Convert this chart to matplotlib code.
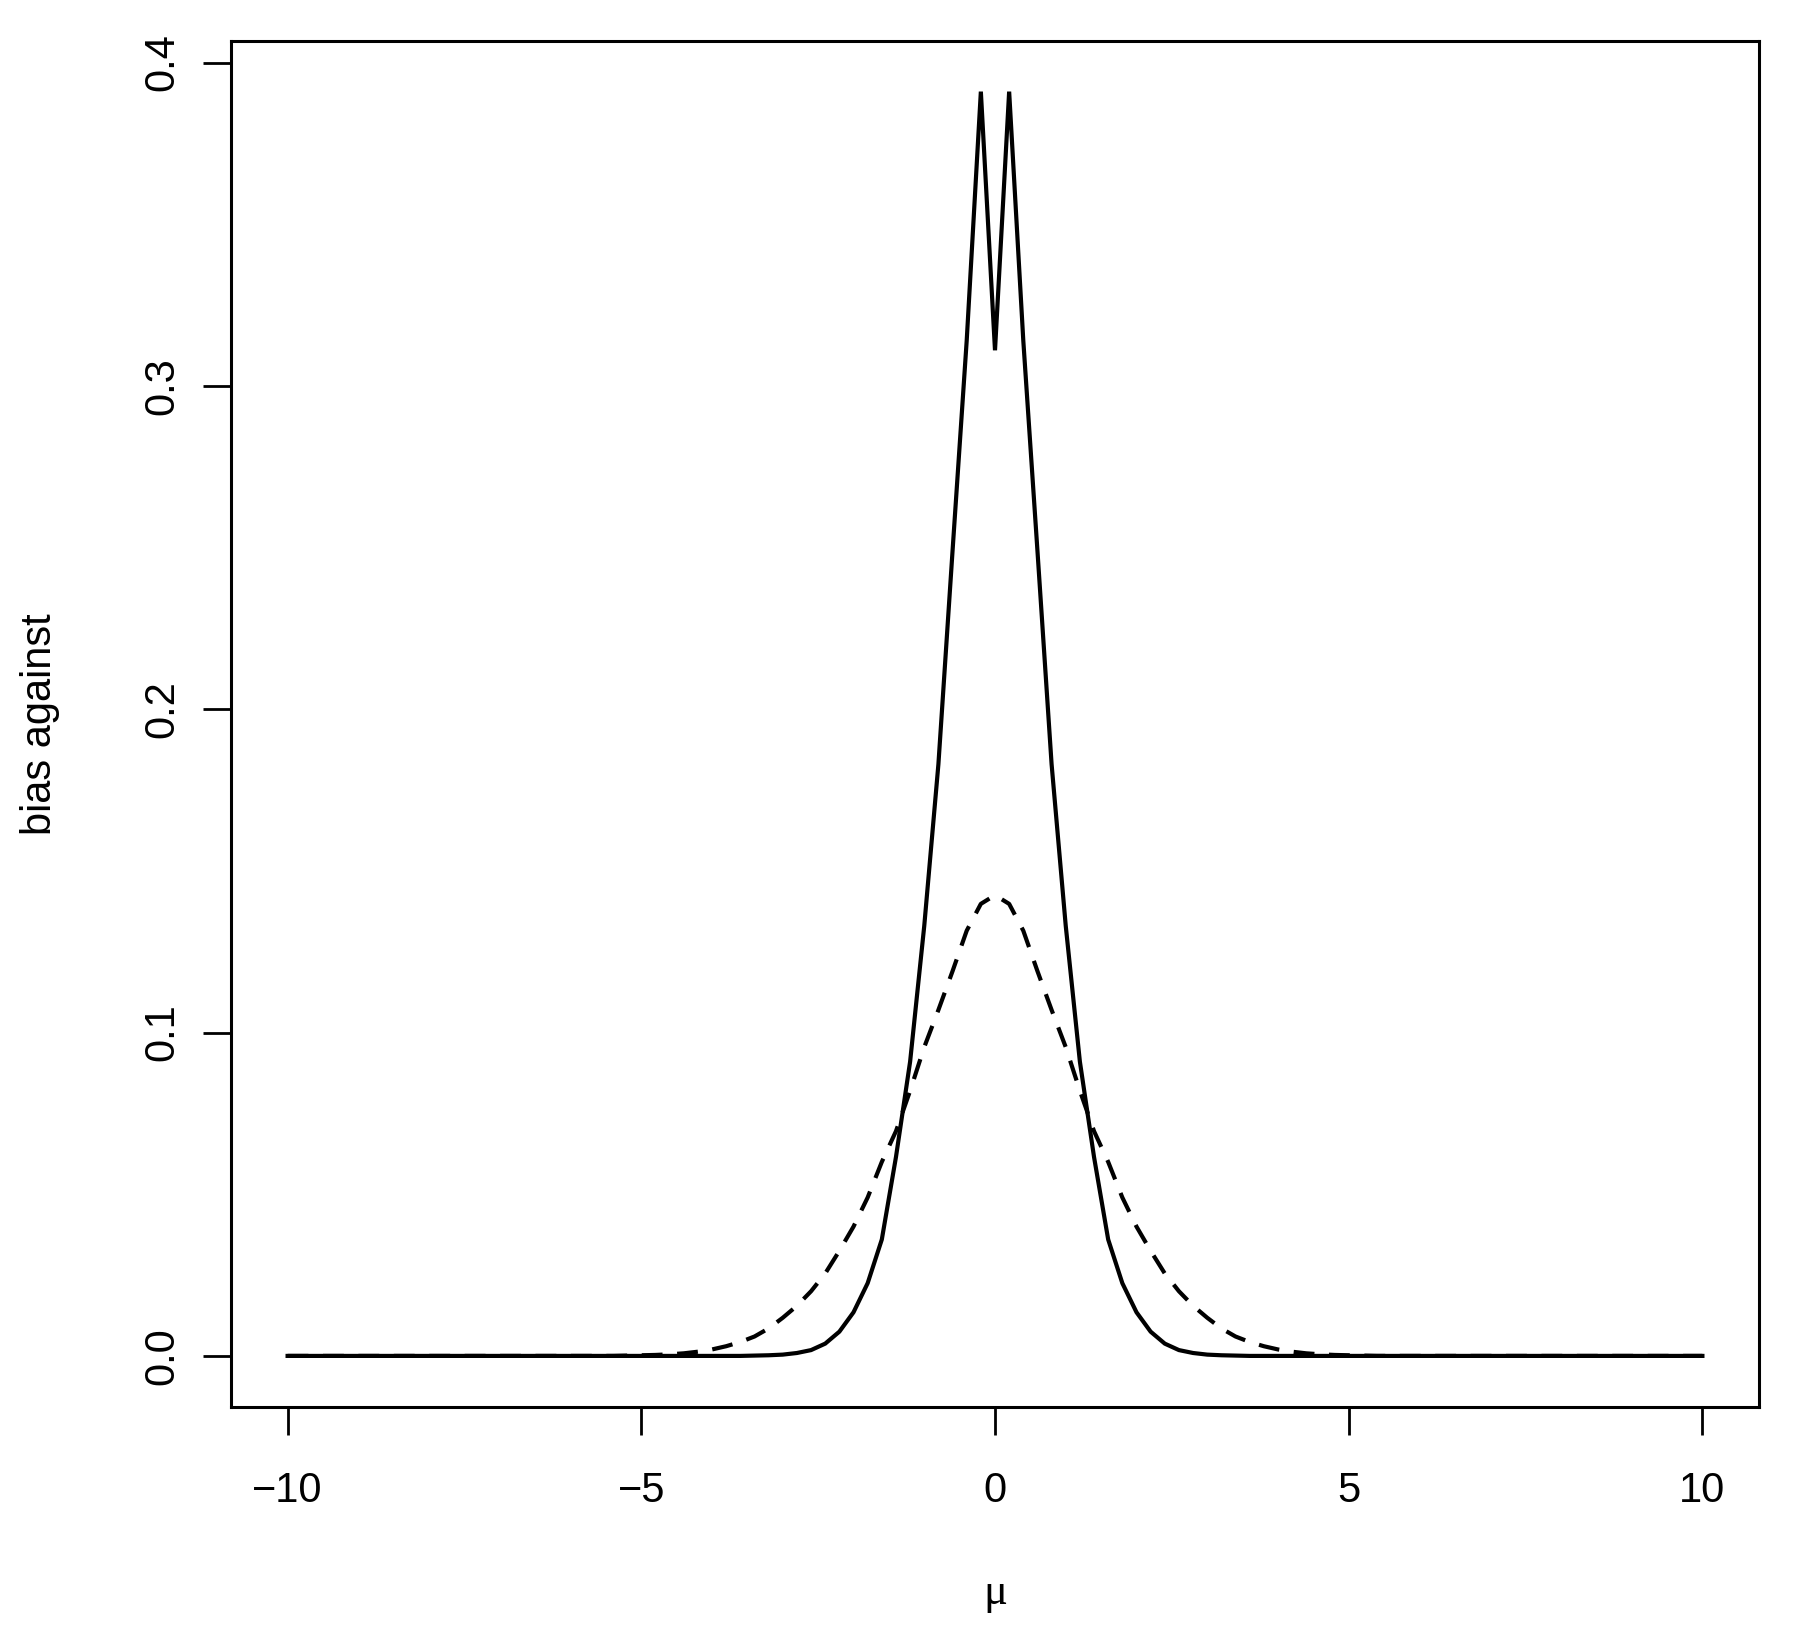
import numpy as np
import matplotlib
matplotlib.use("Agg")
import matplotlib.pyplot as plt

# ---- data (curves are symmetric about mu = 0) ----
mu_half = [0.0, 0.2, 0.4, 0.6, 0.8, 1.0, 1.2, 1.4, 1.6, 1.8, 2.0, 2.2, 2.4,
           2.6, 2.8, 3.0, 3.2, 3.4, 3.6, 3.8, 4.0, 4.2, 4.4, 4.6, 4.8, 5.0,
           5.2, 5.4, 10.0]
bias_solid_half = [0.311, 0.391, 0.314, 0.249, 0.183, 0.133, 0.091, 0.0615,
                   0.036, 0.0225, 0.0135, 0.0075, 0.0038, 0.0018, 0.0009,
                   0.0004, 0.0002, 0.0001, 0.0, 0.0, 0.0, 0.0, 0.0, 0.0, 0.0,
                   0.0, 0.0, 0.0, 0.0]
bias_dashed_half = [0.1425, 0.1398, 0.1315, 0.119, 0.107, 0.0955, 0.082,
                    0.0695, 0.060, 0.049, 0.040, 0.0325, 0.0255, 0.020,
                    0.0155, 0.0118, 0.0085, 0.006, 0.0043, 0.003, 0.002,
                    0.0013, 0.0008, 0.0005, 0.0003, 0.0002, 0.0001, 0.0, 0.0]
xticks = [-10, -5, 0, 5, 10]
yticks = [0.0, 0.1, 0.2, 0.3, 0.4]
ytick_labels = ["0.0", "0.1", "0.2", "0.3", "0.4"]
xlabel = "\u03bc"
ylabel = "bias against"

# mirror to full range
mu = np.concatenate([-np.array(mu_half[:0:-1]), np.array(mu_half)])
solid = np.concatenate([np.array(bias_solid_half[:0:-1]), np.array(bias_solid_half)])
dashed = np.concatenate([np.array(bias_dashed_half[:0:-1]), np.array(bias_dashed_half)])

plt.rcParams['font.family'] = ['Liberation Sans', 'DejaVu Sans']

W, H = 1810, 1637
fig = plt.figure(figsize=(W / 100, H / 100), dpi=100)
L, R, T, B = 231, 1759, 41.5, 1407
ax = fig.add_axes([L / W, 1 - B / H, (R - L) / W, (B - T) / H])

ax.plot(mu, solid, color='black', lw=3.0, solid_joinstyle='miter')
ax.plot(mu, dashed, color='black', lw=3.0, linestyle=(0, (5, 3.5)))

ax.set_xlim(-10.8, 10.8)
ax.set_ylim(-0.0158, 0.4065)
ax.set_xticks(xticks)
ax.set_xticklabels([str(v).replace('-', '\u2212') for v in xticks])
ax.set_yticks(yticks)
ax.set_yticklabels(ytick_labels, rotation=90, va='center')

for s in ax.spines.values():
    s.set_linewidth(2.2)
ax.tick_params(axis='both', length=20, width=2.0, labelsize=30, direction='out')
ax.tick_params(axis='x', pad=26)
ax.tick_params(axis='y', pad=15)

ax.set_xlabel(xlabel, fontsize=32, family=['Liberation Serif', 'DejaVu Serif'])
ax.xaxis.label.set_va('center')
ax.xaxis.set_label_coords(0.5, (B - 1593) / (B - T))
ax.set_ylabel(ylabel, fontsize=30)
ax.yaxis.label.set_va('center')
ax.yaxis.set_label_coords((40 - L) / (R - L), 0.5)

fig.savefig("out.png", dpi=100)
